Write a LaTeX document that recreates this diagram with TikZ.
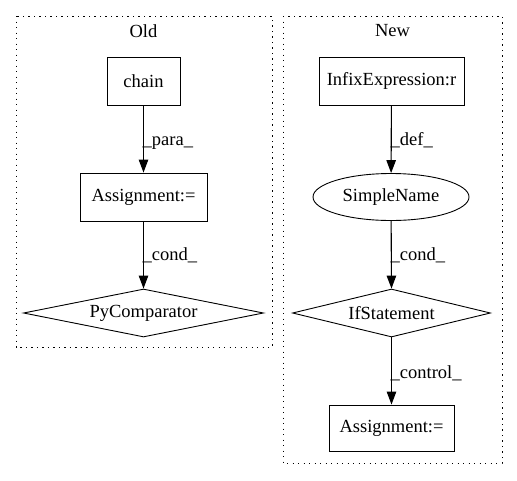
\documentclass[tikz,border=0pt]{standalone}
\usepackage{fontspec}
\setmainfont{Liberation Serif}
\usetikzlibrary{shapes.geometric,arrows.meta}
\begin{document}
\begin{tikzpicture}[x=1pt,y=-1pt,
  every node/.style={font=\fontsize{18.5}{21}\selectfont, inner sep=0pt},
  boxnode/.style={draw, line width=0.9pt, minimum height=48pt},
  diam/.style={draw, shape=diamond, line width=0.9pt, minimum height=48pt},
  ell/.style={draw, ellipse, line width=0.9pt, minimum width=156pt, minimum height=47pt},
  cluster/.style={draw, line width=1pt, dash pattern=on 1.3pt off 4.2pt},
  edge/.style={line width=1.1pt, -{Triangle[length=13pt,width=9.5pt]}},
  elabel/.style={anchor=west}]
\useasboundingbox (0,0) rectangle (517,480);
\draw[cluster] (16,16) rectangle (272,347);
\draw[cluster] (283,16) rectangle (502,463);
\node (oldlbl) at (143.5,31) {Old};
\node (newlbl) at (392.5,31) {New};
% Old
\node[boxnode, minimum width=73pt] (chain) at (143.5,81) {chain};
\node[boxnode, minimum width=127pt] (asg1) at (143.5,197) {Assignment:=};
\node[diam, minimum width=240pt, aspect=5] (pyc) at (143.5,313) {};
\node (pyctext) at (143.5,313) {PyComparator};
% New
\node[boxnode, minimum width=145pt] (infix) at (391.5,81) {InfixExpression:r};
\node[ell] (sn) at (391,197) {SimpleName};
\node[diam, minimum width=198pt, aspect=4.1] (ifs) at (391.5,313) {};
\node (ifstext) at (391.5,313) {IfStatement};
\node[boxnode, minimum width=125pt, minimum height=46pt] (asg2) at (391.5,428) {Assignment:=};
% edges
\draw[edge] (chain) -- (asg1);
\node[elabel] (l1) at (142.5,143) {\_para\_};
\draw[edge] (asg1) -- (pyc.north);
\node[elabel] (l2) at (142.5,255) {\_cond\_};
\draw[edge] (infix) -- (sn);
\node[elabel] (l3) at (390.5,140) {\_def\_};
\draw[edge] (sn) -- (ifs.north);
\node[elabel] (l4) at (390.5,255) {\_cond\_};
\draw[edge] (ifs.south) -- (asg2);
\node[elabel] (l5) at (390.5,373) {\_control\_};
\end{tikzpicture}
\end{document}
